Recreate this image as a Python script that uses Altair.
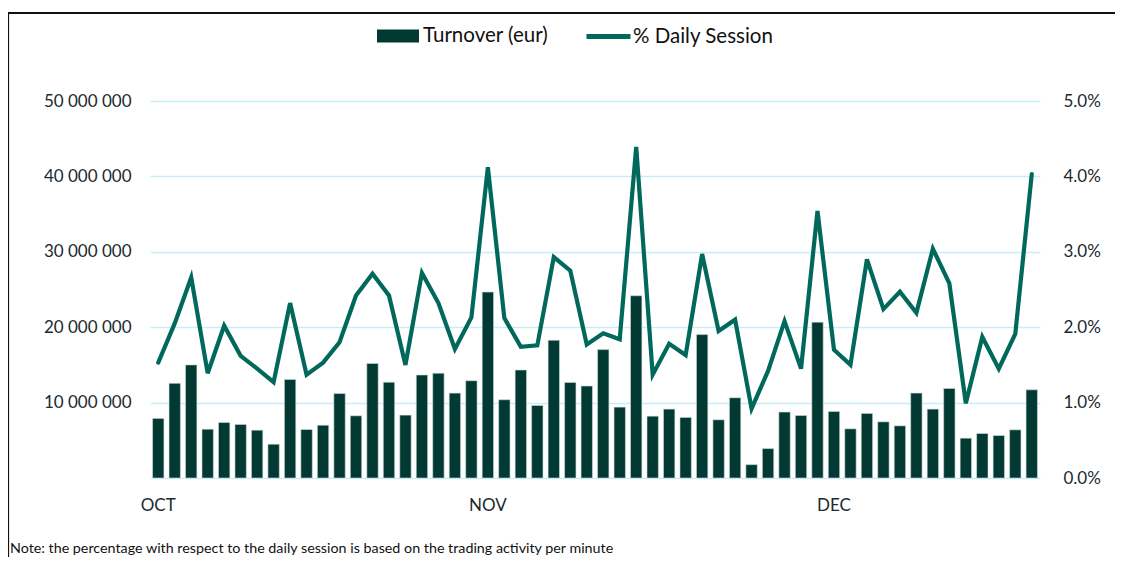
import altair as alt
import pandas as pd

# Daily turnover (million EUR)
turnover_m = [7.9, 12.55, 15.0, 6.47, 7.36, 7.1, 6.34, 4.48, 13.08, 6.43,
              7.0, 11.2, 8.25, 15.2, 12.7, 8.34, 13.66, 13.9, 11.26, 12.9,
              24.66, 10.38, 14.32, 9.62, 18.27, 12.68, 12.2, 17.03, 9.4, 24.17,
              8.2, 9.14, 8.03, 19.02, 7.72, 10.64, 1.77, 3.9, 8.74, 8.29,
              20.67, 8.82, 6.52, 8.56, 7.45, 6.92, 11.26, 9.14, 11.88, 5.28,
              5.9, 5.63, 6.39, 11.7]

# % of daily session (percent)
daily_pct = [1.53, 2.05, 2.66, 1.39, 2.02, 1.62, 1.45, 1.27, 2.32, 1.37,
             1.53, 1.80, 2.42, 2.71, 2.42, 1.50, 2.72, 2.32, 1.71, 2.13,
             4.12, 2.12, 1.74, 1.76, 2.93, 2.75, 1.77, 1.92, 1.84, 4.39,
             1.37, 1.78, 1.63, 2.97, 1.95, 2.10, 0.92, 1.42, 2.08, 1.45,
             3.54, 1.70, 1.50, 2.90, 2.24, 2.47, 2.19, 3.04, 2.58, 0.99,
             1.87, 1.45, 1.91, 4.03]

# Month tick labels (day index -> label)
month_tick_idx = [0, 20, 41]
month_tick_lbl = ["OCT", "NOV", "DEC"]

series_names = ["Turnover (eur)", "% Daily Session"]

note_text = "Note: the percentage with respect to the daily session is based on the trading activity per minute"

df = pd.DataFrame({
    "idx": list(range(len(turnover_m))),
    "turnover": [v * 1e6 for v in turnover_m],
    "pct": [v / 100 for v in daily_pct],
    "s_bar": [series_names[0]] * len(turnover_m),
    "s_line": [series_names[1]] * len(turnover_m),
})

FONT = "Lato"
BAR_C = "#023a33"
LINE_C = "#01695b"
GRID_C = "#c9edf6"
TXT_C = "#1b2a2f"

label_expr = " : ".join(
    f"datum.value == {i} ? '{l}'" for i, l in zip(month_tick_idx, month_tick_lbl)
) + " : ''"

x_enc = alt.X(
    "idx:O",
    scale=alt.Scale(paddingInner=0.31, paddingOuter=0.155),
    axis=alt.Axis(
        title=None, values=month_tick_idx, labelExpr=label_expr, labelAngle=0,
        ticks=False, domain=False, grid=False, labelPadding=19,
        labelFont=FONT, labelFontSize=17, labelColor=TXT_C,
    ),
)

base = alt.Chart(df)

bars = base.mark_bar(stroke="#cfdcd9", strokeWidth=0.6).encode(
    x=x_enc,
    y=alt.Y(
        "turnover:Q",
        scale=alt.Scale(domain=[0, 50_000_000], nice=False),
        axis=alt.Axis(
            title=None, orient="left", values=[10e6, 20e6, 30e6, 40e6, 50e6],
            labelExpr="format(floor(datum.value / 1000000), 'd') + ' 000 000'",
            grid=False, ticks=False, domain=False, labelPadding=19,
            labelFont=FONT, labelFontSize=17, labelColor=TXT_C,
        ),
    ),
    color=alt.Color(
        "s_bar:N",
        scale=alt.Scale(domain=[series_names[0]], range=[BAR_C]),
        legend=alt.Legend(
            title=None, orient="none", legendX=227, legendY=-86, padding=0,
            symbolType="M-1,-0.31H1V0.31H-1Z", symbolSize=1764,
            symbolStrokeWidth=0, symbolOpacity=1, labelOffset=4,
            labelFont=FONT, labelFontSize=20.5, labelColor="#111111",
        ),
    ),
)

line = base.mark_line(strokeWidth=4.2, strokeJoin="miter", strokeCap="round").encode(
    x=x_enc,
    y=alt.Y(
        "pct:Q",
        scale=alt.Scale(domain=[0, 0.05], nice=False),
        axis=alt.Axis(
            title=None, orient="right", values=[0, 0.01, 0.02, 0.03, 0.04, 0.05],
            format=".1%", grid=True, gridColor=GRID_C, gridWidth=1.6,
            ticks=False, domain=False, labelPadding=23,
            labelFont=FONT, labelFontSize=17, labelColor=TXT_C,
        ),
    ),
    color=alt.Color(
        "s_line:N",
        scale=alt.Scale(domain=[series_names[1]], range=[LINE_C]),
        legend=alt.Legend(
            title=None, orient="none", legendX=434, legendY=-89, padding=0,
            symbolType="stroke", symbolSize=1936, symbolStrokeWidth=5,
            labelOffset=0,
            labelFont=FONT, labelFontSize=20.5, labelColor="#111111",
        ),
    ),
)

one = alt.Chart(pd.DataFrame({"k": [0]}))

frame_top = one.mark_rule(color="#111111", strokeWidth=2.2).encode(
    x=alt.value(-143), x2=alt.value(990), y=alt.value(-88)
)
frame_left = one.mark_rule(color="#111111", strokeWidth=2.2).encode(
    x=alt.value(-142), y=alt.value(-89), y2=alt.value(480)
)
note = one.mark_text(
    align="left", baseline="alphabetic", font=FONT, fontSize=14.3, color="#111111"
).encode(x=alt.value(-140), y=alt.value(452), text=alt.value(note_text))

chart = (
    alt.layer(bars, line, frame_top, frame_left, note)
    .resolve_scale(y="independent", color="independent")
    .properties(
        width=890, height=377,
        autosize=alt.AutoSizeParams(type="none"),
        padding={"left": 142, "top": 93, "right": 75, "bottom": 79},
    )
    .configure(background="white", view=alt.ViewConfig(stroke=None))
)

chart.save("out.html", embed_options={"renderer": "svg", "actions": False})
